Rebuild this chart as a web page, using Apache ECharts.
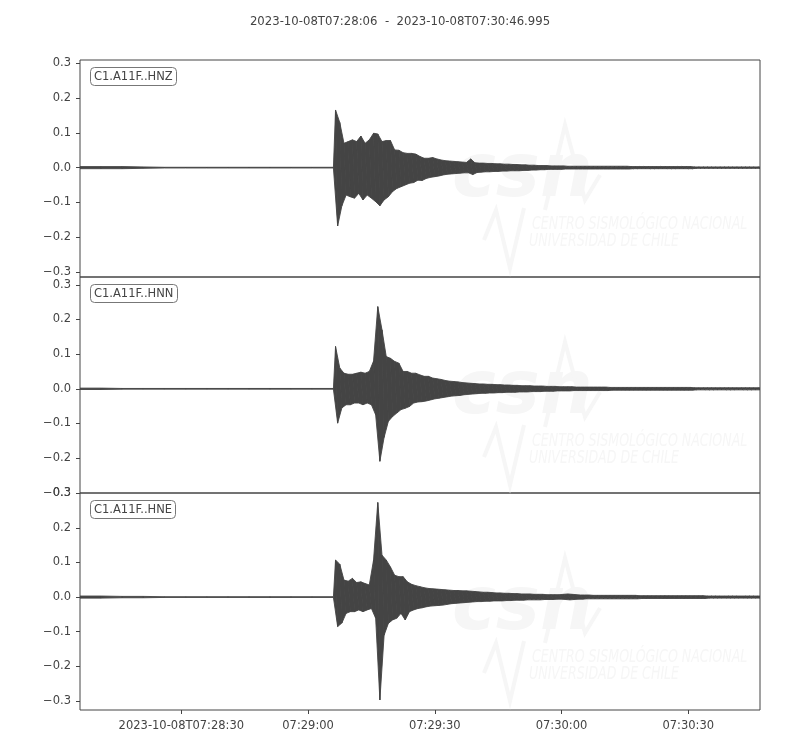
<!DOCTYPE html>
<html>
<head>
<meta charset="utf-8">
<title>C1.A11F waveforms</title>
<script src="https://cdn.jsdelivr.net/npm/echarts@6/dist/echarts.min.js"></script>
<style>
  html, body { margin: 0; padding: 0; background: #fff; }
  #chart { width: 800px; height: 750px; }
</style>
</head>
<body>
<div id="chart"></div>
<script>
// time in seconds after 07:28:00
const startSec = 6
const endSec = 166.995
const xTicks = [30, 60, 90, 120, 150]
const xTickLabels = ['2023-10-08T07:28:30', '07:29:00', '07:29:30', '07:30:00', '07:30:30']
const yTicks = [-0.3, -0.2, -0.1, 0, 0.1, 0.2, 0.3]

const channels = ['C1.A11F..HNZ', 'C1.A11F..HNN', 'C1.A11F..HNE']
// y limits of each panel
const yMin = [-0.315, -0.3005, -0.326]
const yMax = [0.310, 0.3225, 0.3005]

// pre-event noise level, one value every 5 s from 07:28:06 to 07:29:06
const preStep = 5
const zPre = [0.003, 0.003, 0.003, 0.002, 0.001, 0.001, 0.001, 0.001, 0.001, 0.001, 0.001, 0.001, 0.001]
const nPre = [0.002, 0.002, 0.001, 0.001, 0.001, 0.001, 0.001, 0.001, 0.001, 0.001, 0.001, 0.001, 0.001]
const ePre = [0.003, 0.003, 0.002, 0.002, 0.001, 0.001, 0.001, 0.001, 0.001, 0.001, 0.001, 0.001, 0.001]

// envelope (max / min) per 1 s bin, first bin starts at 07:29:06.5
const binStart = 66.5
const zUp = [
  0.166, 0.130, 0.070, 0.075, 0.080, 0.075, 0.091, 0.070, 0.080, 0.099,
  0.097, 0.075, 0.078, 0.078, 0.051, 0.050, 0.043, 0.041, 0.041, 0.039,
  0.032, 0.027, 0.027, 0.029, 0.025, 0.022, 0.020, 0.019, 0.018, 0.017,
  0.016, 0.015, 0.025, 0.014, 0.013, 0.013, 0.012, 0.012, 0.011, 0.011,
  0.010, 0.010, 0.009, 0.009, 0.008, 0.008, 0.007, 0.007, 0.006, 0.006,
  0.006, 0.005, 0.005, 0.005, 0.005, 0.004, 0.004, 0.004, 0.004, 0.004,
  0.004, 0.004, 0.004, 0.004, 0.004, 0.004, 0.004, 0.004, 0.004, 0.004,
  0.003, 0.003, 0.003, 0.003, 0.003, 0.003, 0.003, 0.003, 0.003, 0.003,
  0.003, 0.003, 0.003, 0.003, 0.003, 0.002, 0.002, 0.002, 0.002, 0.002,
  0.002, 0.002, 0.002, 0.002, 0.002, 0.002, 0.002, 0.002, 0.002, 0.002,
  0.002
]
const zLo = [
  -0.168, -0.110, -0.079, -0.084, -0.088, -0.074, -0.093, -0.079, -0.088, -0.098,
  -0.110, -0.093, -0.084, -0.069, -0.060, -0.055, -0.050, -0.045, -0.043, -0.036,
  -0.037, -0.031, -0.028, -0.026, -0.024, -0.021, -0.019, -0.018, -0.017, -0.016,
  -0.015, -0.015, -0.020, -0.014, -0.013, -0.012, -0.012, -0.011, -0.011, -0.010,
  -0.010, -0.009, -0.009, -0.009, -0.008, -0.008, -0.007, -0.007, -0.006, -0.006,
  -0.005, -0.005, -0.005, -0.005, -0.004, -0.004, -0.004, -0.004, -0.004, -0.004,
  -0.004, -0.004, -0.004, -0.004, -0.004, -0.004, -0.004, -0.004, -0.004, -0.004,
  -0.003, -0.003, -0.003, -0.003, -0.003, -0.003, -0.003, -0.003, -0.003, -0.003,
  -0.003, -0.003, -0.003, -0.003, -0.003, -0.002, -0.002, -0.002, -0.002, -0.002,
  -0.002, -0.002, -0.002, -0.002, -0.002, -0.002, -0.002, -0.002, -0.002, -0.002,
  -0.002
]
const nUp = [
  0.122, 0.060, 0.045, 0.042, 0.042, 0.045, 0.048, 0.045, 0.050, 0.080,
  0.237, 0.170, 0.093, 0.088, 0.079, 0.074, 0.050, 0.050, 0.045, 0.045,
  0.040, 0.036, 0.036, 0.031, 0.029, 0.027, 0.024, 0.022, 0.021, 0.020,
  0.018, 0.017, 0.016, 0.015, 0.014, 0.014, 0.013, 0.013, 0.012, 0.012,
  0.011, 0.011, 0.010, 0.010, 0.009, 0.009, 0.009, 0.008, 0.008, 0.008,
  0.007, 0.007, 0.007, 0.006, 0.006, 0.006, 0.006, 0.005, 0.005, 0.005,
  0.005, 0.005, 0.005, 0.005, 0.005, 0.004, 0.004, 0.004, 0.004, 0.004,
  0.004, 0.004, 0.004, 0.004, 0.004, 0.004, 0.004, 0.004, 0.004, 0.004,
  0.004, 0.004, 0.004, 0.004, 0.004, 0.003, 0.003, 0.003, 0.003, 0.003,
  0.003, 0.003, 0.003, 0.003, 0.003, 0.003, 0.003, 0.003, 0.003, 0.003,
  0.003
]
const nLo = [
  -0.099, -0.055, -0.046, -0.046, -0.041, -0.041, -0.046, -0.041, -0.046, -0.075,
  -0.209, -0.140, -0.094, -0.080, -0.070, -0.060, -0.056, -0.051, -0.041, -0.038,
  -0.037, -0.035, -0.032, -0.029, -0.027, -0.025, -0.023, -0.021, -0.020, -0.019,
  -0.017, -0.016, -0.015, -0.014, -0.013, -0.013, -0.012, -0.012, -0.011, -0.011,
  -0.010, -0.010, -0.010, -0.009, -0.009, -0.009, -0.008, -0.008, -0.008, -0.007,
  -0.007, -0.007, -0.006, -0.006, -0.006, -0.006, -0.005, -0.005, -0.005, -0.005,
  -0.005, -0.005, -0.005, -0.005, -0.005, -0.004, -0.004, -0.004, -0.004, -0.004,
  -0.004, -0.004, -0.004, -0.004, -0.004, -0.004, -0.004, -0.004, -0.004, -0.004,
  -0.004, -0.004, -0.004, -0.004, -0.004, -0.003, -0.003, -0.003, -0.003, -0.003,
  -0.003, -0.003, -0.003, -0.003, -0.003, -0.003, -0.003, -0.003, -0.003, -0.003,
  -0.003
]
const eUp = [
  0.107, 0.095, 0.049, 0.046, 0.054, 0.042, 0.044, 0.039, 0.035, 0.107,
  0.273, 0.121, 0.107, 0.087, 0.063, 0.059, 0.059, 0.044, 0.037, 0.033,
  0.030, 0.027, 0.025, 0.024, 0.023, 0.022, 0.021, 0.020, 0.019, 0.019,
  0.018, 0.018, 0.017, 0.016, 0.015, 0.014, 0.014, 0.013, 0.012, 0.012,
  0.011, 0.011, 0.010, 0.010, 0.009, 0.009, 0.009, 0.008, 0.008, 0.008,
  0.007, 0.007, 0.007, 0.007, 0.008, 0.009, 0.008, 0.007, 0.006, 0.006,
  0.006, 0.005, 0.005, 0.005, 0.005, 0.005, 0.005, 0.005, 0.005, 0.005,
  0.005, 0.005, 0.004, 0.004, 0.004, 0.004, 0.004, 0.004, 0.004, 0.004,
  0.004, 0.004, 0.004, 0.004, 0.004, 0.004, 0.004, 0.004, 0.003, 0.003,
  0.003, 0.003, 0.003, 0.003, 0.003, 0.003, 0.003, 0.003, 0.003, 0.003,
  0.003
]
const eLo = [
  -0.085, -0.075, -0.047, -0.042, -0.042, -0.037, -0.042, -0.037, -0.033, -0.061,
  -0.297, -0.110, -0.076, -0.066, -0.061, -0.047, -0.066, -0.042, -0.037, -0.033,
  -0.031, -0.028, -0.026, -0.025, -0.024, -0.023, -0.021, -0.019, -0.018, -0.017,
  -0.016, -0.015, -0.014, -0.013, -0.013, -0.012, -0.012, -0.011, -0.011, -0.011,
  -0.010, -0.010, -0.009, -0.009, -0.009, -0.008, -0.008, -0.008, -0.008, -0.007,
  -0.007, -0.007, -0.006, -0.006, -0.007, -0.008, -0.007, -0.006, -0.006, -0.005,
  -0.005, -0.005, -0.005, -0.005, -0.005, -0.005, -0.005, -0.005, -0.005, -0.005,
  -0.005, -0.005, -0.004, -0.004, -0.004, -0.004, -0.004, -0.004, -0.004, -0.004,
  -0.004, -0.004, -0.004, -0.004, -0.004, -0.004, -0.004, -0.004, -0.003, -0.003,
  -0.003, -0.003, -0.003, -0.003, -0.003, -0.003, -0.003, -0.003, -0.003, -0.003,
  -0.003
]

const font = '"DejaVu Sans", "Liberation Sans", sans-serif'
const ink = '#444'

// each item: [time of max, max, time of min, min]
function traceBins(pre, up, lo) {
  const bins = []
  pre.forEach((a, i) => {
    const t = startSec + i * preStep
    bins.push([t, a, t, -a])
  })
  up.forEach((u, i) => {
    const t = binStart + i
    bins.push([t, u, t + 0.5, lo[i]])
  })
  return bins
}
const traces = [
  traceBins(zPre, zUp, zLo),
  traceBins(nPre, nUp, nLo),
  traceBins(ePre, eUp, eLo)
]

const grids = [
  {top: 60, height: 217},
  {top: 277, height: 216},
  {top: 493, height: 217}
]

function fmtY(v) {
  return (Math.abs(v) < 1e-9 ? 0 : v).toFixed(1).replace('-', '\u2212')
}

// fill between the envelope of one bin and the next
function makeRender(bins) {
  return function (params, api) {
    const i = params.dataIndex
    const b = bins[i]
    const nb = bins[i + 1] || [b[0] + 0.5, b[1], b[2] + 0.5, b[3]]
    const pts = [
      api.coord([b[0], b[1]]),
      api.coord([nb[0], nb[1]]),
      api.coord([nb[2], nb[3]]),
      api.coord([b[2], b[3]])
    ]
    return {
      type: 'polygon',
      shape: {points: pts},
      style: {fill: ink, stroke: ink, lineWidth: 0.9, lineJoin: 'bevel'},
      silent: true
    }
  }
}

// faint CSN watermark in every panel
function watermark(top) {
  const wm = '#f6f6f6'
  return [
    {
      type: 'text', left: 452, top: top + 80, z: 0, silent: true,
      style: {text: 'csn', fill: wm, font: 'italic bold 74px "DejaVu Sans"'}
    },
    {
      type: 'polyline', z: 0, silent: true,
      shape: {points: [[545, top + 150], [565, top + 65], [585, top + 140], [600, top + 115]]},
      style: {stroke: wm, lineWidth: 4, fill: null}
    },
    {
      type: 'polyline', z: 0, silent: true,
      shape: {points: [[484, top + 180], [496, top + 150], [510, top + 208], [524, top + 148]]},
      style: {stroke: wm, lineWidth: 4, fill: null}
    },
    {
      type: 'text', left: 532, top: top + 155, z: 0, silent: true, scaleX: 0.7,
      style: {text: 'CENTRO SISMOLÓGICO NACIONAL', fill: wm, font: 'italic 18px "DejaVu Sans"'}
    },
    {
      type: 'text', left: 529, top: top + 172, z: 0, silent: true, scaleX: 0.7,
      style: {text: 'UNIVERSIDAD DE CHILE', fill: wm, font: 'italic 18px "DejaVu Sans"'}
    }
  ]
}

const chart = echarts.init(document.getElementById('chart'), null, {renderer: 'canvas'})

const option = {
  animation: false,
  backgroundColor: '#fff',
  title: [
    {
      text: '2023-10-08T07:28:06  -  2023-10-08T07:30:46.995',
      left: 'center',
      top: 11,
      textStyle: {fontFamily: font, fontSize: 11.7, fontWeight: 'normal', color: ink}
    }
  ].concat(channels.map((name, k) => ({
    text: name,
    left: 90,
    top: grids[k].top + 7,
    padding: [4, 4, 3, 4],
    borderColor: '#777',
    borderWidth: 1,
    borderRadius: 4,
    backgroundColor: '#fff',
    textStyle: {fontFamily: font, fontSize: 11.5, fontWeight: 'normal', color: ink}
  }))),
  graphic: grids.map(g => watermark(g.top)).flat(),
  grid: grids.map(g => ({
    left: 80, width: 680, top: g.top, height: g.height,
    show: true, borderColor: ink, borderWidth: 1, backgroundColor: 'transparent'
  })),
  xAxis: grids.map((g, k) => ({
    type: 'value',
    gridIndex: k,
    min: startSec,
    max: endSec,
    axisLine: {show: false, onZero: false},
    splitLine: {show: false},
    axisTick: {
      show: k === 2,
      customValues: xTicks,
      length: 4,
      lineStyle: {color: ink}
    },
    axisLabel: {
      show: k === 2,
      customValues: xTicks,
      margin: 10,
      fontFamily: font,
      fontSize: 11.5,
      color: ink,
      formatter: v => xTickLabels[xTicks.indexOf(v)]
    }
  })),
  yAxis: grids.map((g, k) => ({
    type: 'value',
    gridIndex: k,
    min: yMin[k],
    max: yMax[k],
    axisLine: {show: false, onZero: false},
    splitLine: {show: false},
    axisTick: {show: true, customValues: yTicks, length: 4, lineStyle: {color: ink}},
    axisLabel: {
      customValues: yTicks,
      margin: 9,
      fontFamily: font,
      fontSize: 11.5,
      color: ink,
      formatter: fmtY
    }
  })),
  series: traces.map((bins, k) => ({
    name: channels[k],
    type: 'custom',
    xAxisIndex: k,
    yAxisIndex: k,
    data: bins,
    encode: {x: [0, 2], y: [1, 3]},
    renderItem: makeRender(bins),
    clip: true,
    silent: true,
    z: 3
  }))
}

chart.setOption(option)
window.addEventListener('resize', function () {
  if (chart) chart.resize()
})
</script>
</body>
</html>
